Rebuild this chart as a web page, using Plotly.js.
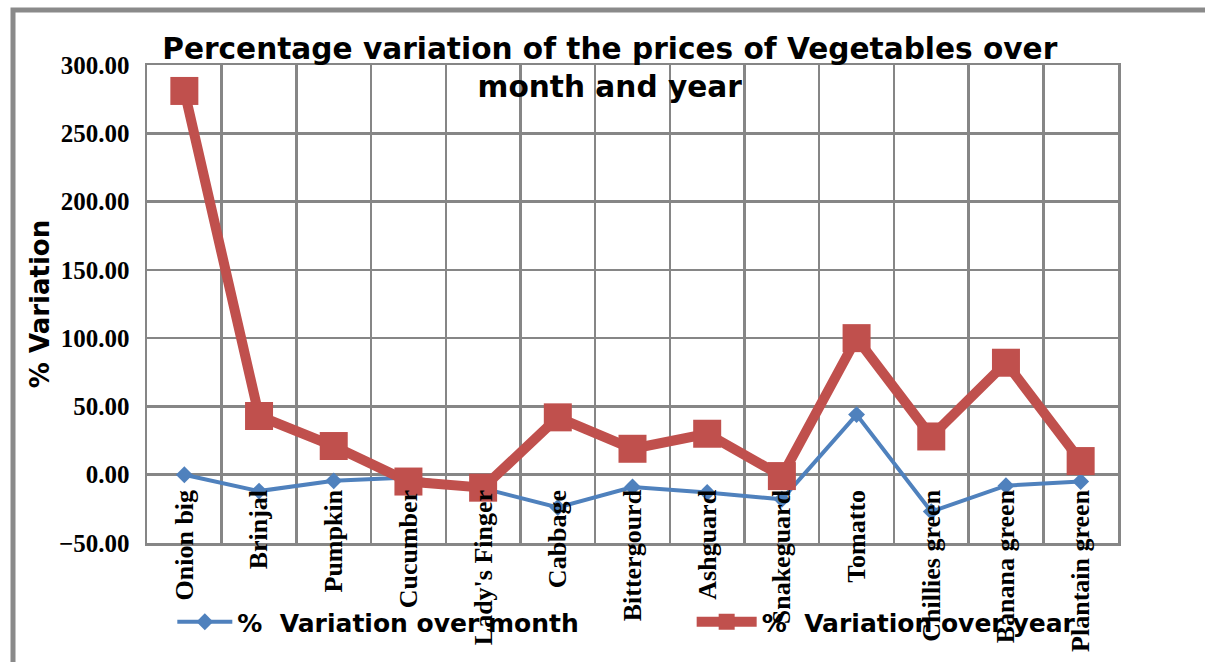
<!DOCTYPE html>
<html>
<head>
<meta charset="utf-8">
<script src="https://cdn.plot.ly/plotly-3.0.1.min.js"></script>
<style>
html,body{margin:0;padding:0;background:#fff;}
#chart{width:1205px;height:662px;}
</style>
</head>
<body>
<div id="chart"></div>
<script>
const categories = ["Onion big","Brinjal","Pumpkin","Cucumber","Lady's Finger","Cabbage","Bittergourd","Ashguard","Snakeguard","Tomatto","Chillies green","Banana green","Plantain green"];
const variationOverMonth = [0, -12, -4.5, -2, -10, -24, -9, -13, -18, 44, -27, -8, -5];
const variationOverYear = [281, 43, 21, -5, -9.5, 42, 19, 30, -1, 100, 28, 82, 10];
const yTickValues = [-50, 0, 50, 100, 150, 200, 250, 300];

const traces = [
  {
    x: categories, y: variationOverMonth, type: 'scatter', mode: 'lines+markers',
    name: '%  Variation over month', legend: 'legend',
    line: {color: '#4F81BD', width: 4},
    marker: {symbol: 'diamond', size: 13, color: '#4F81BD'}
  },
  {
    x: categories, y: variationOverYear, type: 'scatter', mode: 'lines+markers',
    name: '%  Variation over year', legend: 'legend2',
    line: {color: '#C0504D', width: 10},
    marker: {symbol: 'square', size: 28, color: '#C0504D'}
  }
];

const legendFont = {family: 'DejaVu Sans', size: 25, color: '#000', weight: 'bold'};

const layout = {
  width: 1205, height: 662,
  margin: {l: 147, r: 87, t: 65, b: 119, pad: 0, autoexpand: false},
  paper_bgcolor: '#ffffff', plot_bgcolor: '#ffffff',
  showlegend: true,
  title: {
    text: 'Percentage variation of the prices of Vegetables over<br>month and year',
    font: {family: 'DejaVu Sans', size: 29.6, color: '#000', weight: 'bold'},
    xref: 'container', x: 0.506, xanchor: 'center',
    yref: 'container', y: 0.911, yanchor: 'middle'
  },
  xaxis: {
    type: 'category', range: [-0.5, 12.5], automargin: false,
    tickson: 'boundaries', ticks: '',
    showgrid: true, gridcolor: '#868686', gridwidth: 2.5,
    showline: true, mirror: true, linecolor: '#868686', linewidth: 2.5,
    tickangle: -90, ticklabelstandoff: -66,
    tickfont: {family: 'Liberation Serif', size: 26, color: '#000', weight: 'bold'},
    zeroline: false, fixedrange: true
  },
  yaxis: {
    range: [-50, 300], tickvals: yTickValues, tickformat: '.2f', automargin: false,
    showgrid: true, gridcolor: '#868686', gridwidth: 2.5,
    showline: true, mirror: true, linecolor: '#868686', linewidth: 2.5,
    zeroline: false, ticks: '', ticklabelstandoff: 10,
    tickfont: {family: 'Liberation Serif', size: 25, color: '#000', weight: 'bold'},
    title: {text: '% Variation', standoff: 2,
      font: {family: 'DejaVu Sans', size: 26, color: '#000', weight: 'bold'}},
    fixedrange: true
  },
  legend: {
    orientation: 'h', xref: 'container', yref: 'container',
    x: 0.143, xanchor: 'left', y: 0.0604, yanchor: 'middle',
    font: legendFont, bgcolor: 'rgba(0,0,0,0)', itemwidth: 55
  },
  legend2: {
    orientation: 'h', xref: 'container', yref: 'container',
    x: 0.574, xanchor: 'left', y: 0.0604, yanchor: 'middle',
    font: legendFont, bgcolor: 'rgba(0,0,0,0)', itemwidth: 60
  },
  shapes: [
    {type: 'rect', xref: 'paper', yref: 'paper', x0: -0.138, x1: 1.12, y0: -0.3, y1: 1.115,
     line: {color: '#8a8a8a', width: 5}, fillcolor: 'rgba(0,0,0,0)', layer: 'below'}
  ]
};

Plotly.newPlot('chart', traces, layout, {displayModeBar: false, staticPlot: true});
</script>
</body>
</html>
